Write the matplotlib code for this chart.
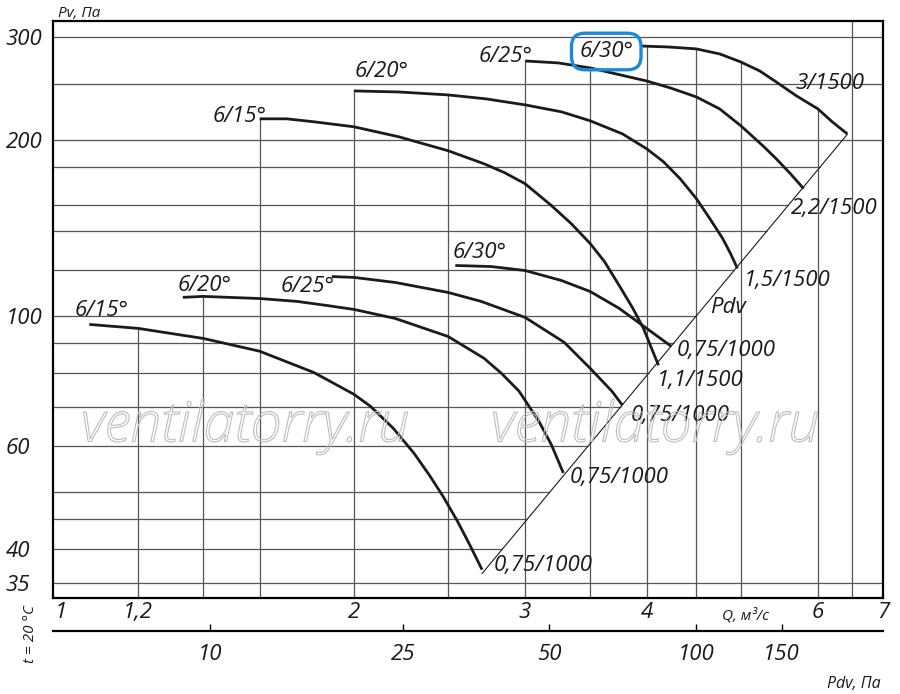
import numpy as np
import matplotlib

matplotlib.use("Agg")
import matplotlib.pyplot as plt
import matplotlib.patheffects as pe
from matplotlib.ticker import NullLocator

# fan curves, Q in m3/s and Pv in Pa
# 1000 rpm, 0.75 kW
q_15_lo = [1.069, 1.2, 1.4, 1.6, 1.819, 2.0, 2.08, 2.195, 2.305, 2.392, 2.469, 2.555, 2.631, 2.709]
pv_15_lo = [96.9, 95.4, 91.7, 87.2, 80.2, 73.6, 70.2, 64.4, 58.4, 53.5, 49.3, 44.7, 40.7, 36.9]
q_20_lo = [1.334, 1.4, 1.6, 1.747, 1.876, 2.0, 2.206, 2.5, 2.722, 2.837, 2.957, 3.099, 3.193, 3.284]
pv_20_lo = [107.8, 108.2, 107.3, 106.1, 104.4, 102.8, 99.2, 92.4, 84.8, 79.9, 74.5, 66.2, 60.3, 54.0]
q_25_lo = [1.898, 2.0, 2.206, 2.5, 2.703, 3.0, 3.291, 3.5, 3.684, 3.777]
pv_25_lo = [117.0, 116.6, 114.3, 109.9, 106.1, 99.6, 90.3, 81.5, 74.5, 70.5]
q_30_lo = [2.543, 2.768, 3.0, 3.269, 3.5, 3.749, 4.0, 4.24]
pv_30_lo = [122.2, 121.7, 119.8, 115.2, 110.3, 103.2, 95.4, 88.9]

# 1500 rpm
q_15_hi = [1.6, 1.706, 1.819, 2.0, 2.223, 2.5, 2.722, 2.858, 3.0, 3.193, 3.346,
           3.5, 3.62, 3.749, 3.872, 3.97, 4.066, 4.114]
pv_15_hi = [217.7, 217.7, 215.2, 211.0, 202.9, 192.0, 182.4, 176.1, 168.6, 154.7, 144.1,
            133.2, 124.1, 112.9, 103.2, 95.4, 86.5, 82.5]
q_20_hi = [2.0, 2.223, 2.5, 2.735, 3.0, 3.269, 3.5, 3.777, 4.0, 4.162, 4.33,
           4.5, 4.645, 4.789, 4.879, 4.959]
pv_20_hi = [243.0, 242.0, 239.2, 235.5, 230.0, 223.8, 216.0, 205.2, 193.5, 183.9, 172.0,
            159.0, 147.0, 135.9, 128.1, 120.8]
q_25_hi = [3.0, 3.246, 3.5, 4.0, 4.23, 4.5, 4.755, 5.0, 5.267, 5.435, 5.622, 5.801]
pv_25_hi = [273.4, 271.3, 266.0, 252.7, 245.9, 237.3, 226.4, 211.8, 195.8, 186.1, 175.4, 165.4]
q_30_hi = [3.94, 4.21, 4.5, 4.755, 5.0, 5.228, 5.435, 5.703, 6.0, 6.206, 6.432]
pv_30_hi = [290.0, 288.9, 286.7, 281.1, 272.3, 262.9, 251.8, 238.3, 226.4, 215.2, 205.2]

angle_labels = ["6/15°", "6/20°", "6/25°", "6/30°"]
motor_lo = ["0,75/1000", "0,75/1000", "0,75/1000", "0,75/1000"]
motor_hi = ["1,1/1500", "1,5/1500", "2,2/1500", "3/1500"]

# dynamic pressure line Pdv = k * Q^2
PDV_K = 4.95

q_ticks = [1, 1.2, 2, 3, 4, 6, 7]
q_tick_labels = ["1", "1,2", "2", "3", "4", "6", "7"]
pv_ticks = [35, 40, 60, 100, 200, 300]
pv_tick_labels = ["35", "40", "60", "100", "200", "300"]
pdv_ticks = [10, 25, 50, 100, 150]
pdv_tick_labels = ["10", "25", "50", "100", "150"]

grid_q = [1.2, 1.4, 1.6, 2, 2.5, 3, 3.5, 4, 4.5, 5, 6, 6.5]
grid_pv = [35, 40, 45, 50, 60, 70, 80, 90, 100, 120, 140, 155, 180, 200, 250, 300]

W, H = 900, 694
INK = "#1b1b1b"
GRID = "#555555"

# label offsets in pixels (start label: ha, dx, dy ; end label: dx, dy)
start_off_lo = [("left", -15, 8), ("left", -5, 6), ("right", 3, -15), ("left", -3, 7)]
start_off_hi = [("right", 7, -3), ("left", 1, 14), ("right", 7, -1), ("right", -7, -11)]
end_off_lo = [(12, -1), (6, -10), (8, -16), (5, -10)]
end_off_hi = [(-2, -21), (6, -18), (-13, -25), (-52, 45)]


def q_to_pdv(q):
    return PDV_K * np.asarray(q) ** 2


def pdv_to_q(p):
    return np.sqrt(np.clip(np.asarray(p, dtype=float), 1e-9, None) / PDV_K)


def fig_xy(x, y):
    return x / W, 1 - y / H


def envelope(q, curves):
    """highest curve value at q, or None where no curve reaches"""
    tops = []
    for cq, cp in curves:
        if cq[0] - 1e-9 <= q <= cq[-1] + 1e-9:
            tops.append(np.exp(np.interp(np.log(q), np.log(cq), np.log(cp))))
    return max(tops) if tops else None


def main():
    plt.rcParams["font.family"] = ["Open Sans", "DejaVu Sans"]
    plt.rcParams["font.style"] = "italic"

    fig = plt.figure(figsize=(W / 100, H / 100), dpi=100)
    ax = fig.add_axes([53 / W, 1 - 598 / H, 830 / W, 577 / H])
    ax.set_xscale("log")
    ax.set_yscale("log")
    xlim = (0.981, 7.0)
    ylim = (33.0, 320.0)
    ax.set_xlim(*xlim)
    ax.set_ylim(*ylim)

    curves_lo = [(q_15_lo, pv_15_lo), (q_20_lo, pv_20_lo), (q_25_lo, pv_25_lo), (q_30_lo, pv_30_lo)]
    curves_hi = [(q_15_hi, pv_15_hi), (q_20_hi, pv_20_hi), (q_25_hi, pv_25_hi), (q_30_hi, pv_30_hi)]
    all_curves = curves_lo + curves_hi

    # vertical grid only up to the top curve
    tops = []
    for q in grid_q:
        t = envelope(q, all_curves)
        tops.append(ylim[1] if t is None else t)
    ax.vlines(grid_q, ylim[0], tops, color=GRID, lw=0.9, zorder=1)

    # horizontal grid stops at the Pdv line
    diag_lo = q_to_pdv(q_15_lo[-1])
    rights = [pdv_to_q(p) if diag_lo < p < 200 else xlim[1] for p in grid_pv]
    ax.hlines(grid_pv, xlim[0], rights, color=GRID, lw=0.9, zorder=1)

    # Pdv line
    dq = np.array([q_15_lo[-1], q_30_hi[-1]])
    ax.plot(dq, q_to_pdv(dq), color=INK, lw=0.8, zorder=2)
    ax.annotate("Pdv", (pdv_to_q(100), 100), xytext=(14, 3), textcoords="offset pixels",
                fontsize=16, ha="left", va="baseline", color=INK)

    for group, starts, ends, motors in ((curves_lo, start_off_lo, end_off_lo, motor_lo),
                                        (curves_hi, start_off_hi, end_off_hi, motor_hi)):
        for i, (cq, cp) in enumerate(group):
            ax.plot(cq, cp, color=INK, lw=2.0, solid_capstyle="butt",
                    solid_joinstyle="round", zorder=3)
            ha, dx, dy = starts[i]
            kw = {}
            if group is curves_hi and i == 3:
                kw["bbox"] = dict(boxstyle="round,pad=0.35,rounding_size=0.6", fc="none",
                                  ec="#1a8ad8", lw=2.4)
            ax.annotate(angle_labels[i], (cq[0], cp[0]), xytext=(dx, dy),
                        textcoords="offset pixels", fontsize=16, ha=ha, va="baseline",
                        color=INK, **kw)
            ex, ey = ends[i]
            ax.annotate(motors[i], (cq[-1], cp[-1]), xytext=(ex, ey),
                        textcoords="offset pixels", fontsize=16, ha="left", va="baseline",
                        color=INK)

    for sp in ax.spines.values():
        sp.set_linewidth(1.6)
        sp.set_color("black")

    ax.xaxis.set_minor_locator(NullLocator())
    ax.yaxis.set_minor_locator(NullLocator())
    ax.set_xticks(q_ticks, q_tick_labels)
    ax.set_yticks(pv_ticks, pv_tick_labels)
    ax.tick_params(axis="both", length=0, labelsize=16, labelcolor=INK)
    ax.tick_params(axis="x", pad=3)
    ax.tick_params(axis="y", pad=34)
    for lbl in ax.get_yticklabels():
        lbl.set_horizontalalignment("left")

    # Pdv scale under the Q axis
    sec = ax.secondary_xaxis(-33 / 577, functions=(q_to_pdv, pdv_to_q))
    sec.xaxis.set_minor_locator(NullLocator())
    sec.set_xticks(pdv_ticks, pdv_tick_labels)
    sec.spines["bottom"].set_linewidth(1.6)
    sec.tick_params(axis="x", direction="in", length=5, width=1.0, pad=9,
                    labelsize=16, labelcolor=INK)

    fig.text(*fig_xy(58, 17), "Pv, Па", fontsize=11, ha="left", va="baseline", color=INK)
    fig.text(*fig_xy(722, 620), "Q, м³/с", fontsize=11, ha="left", va="baseline", color=INK)
    fig.text(*fig_xy(827, 688), "Pdv, Па", fontsize=11.5, ha="left", va="baseline", color=INK)
    fig.text(*fig_xy(30, 634), "t = 20 °C", fontsize=11, rotation=90, ha="center",
             va="center", color=INK)

    for cx in (245, 655):
        fig.text(*fig_xy(cx, 427), "ventilatorry.ru", fontsize=40, ha="center", va="center",
                 color="none", fontweight="light", zorder=4,
                 path_effects=[pe.Stroke(linewidth=0.8, foreground="#bdbdbd")])

    fig.savefig("out.png", dpi=100)


if __name__ == "__main__":
    main()
